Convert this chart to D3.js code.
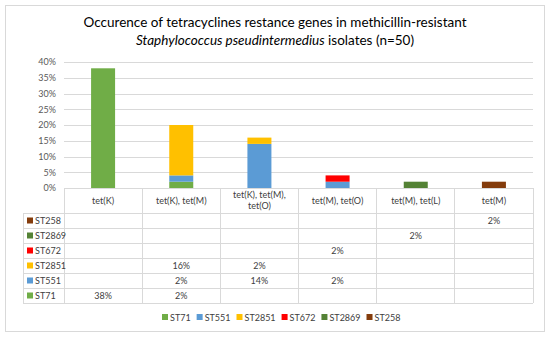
<!DOCTYPE html>
<html>
<head>
<meta charset="utf-8">
<script src="https://cdn.jsdelivr.net/npm/d3@7"></script>
<style>
  body { margin: 0; background: #fff; }
  svg { font-family: Lato, "Open Sans", sans-serif; }
</style>
</head>
<body>
<svg id="chart" width="550" height="337"></svg>
<script>
let categories = ["tet(K)", "tet(K), tet(M)", "tet(K), tet(M), tet(O)", "tet(M), tet(O)", "tet(M), tet(L)", "tet(M)"];
let headerLines = [["tet(K)"], ["tet(K), tet(M)"], ["tet(K), tet(M),", "tet(O)"], ["tet(M), tet(O)"], ["tet(M), tet(L)"], ["tet(M)"]];
let seriesNames = ["ST71", "ST551", "ST2851", "ST672", "ST2869", "ST258"];
let seriesColors = ["#70AD47", "#5B9BD5", "#FFC000", "#FF0000", "#548235", "#843C0C"];
let st71 = [38, 2, 0, 0, 0, 0];
let st551 = [0, 2, 14, 2, 0, 0];
let st2851 = [0, 16, 2, 0, 0, 0];
let st672 = [0, 0, 0, 2, 0, 0];
let st2869 = [0, 0, 0, 0, 2, 0];
let st258 = [0, 0, 0, 0, 0, 2];
let yTicks = [0, 5, 10, 15, 20, 25, 30, 35, 40];

let seriesValues = [st71, st551, st2851, st672, st2869, st258];

let svg = d3.select("#chart");
let width = +svg.attr("width");
let height = +svg.attr("height");

// chart frame
svg.append("rect")
  .attr("x", 5.5).attr("y", 5.5)
  .attr("width", width - 11).attr("height", height - 11)
  .attr("fill", "#fff").attr("stroke", "#d9d9d9");

// title
let title = svg.append("text")
  .attr("x", 275).attr("y", 27)
  .attr("text-anchor", "middle")
  .attr("font-size", 13.5)
  .attr("fill", "#000");
title.append("tspan").attr("x", 275).text("Occurence of tetracyclines restance genes in methicillin-resistant");
let t2 = title.append("tspan").attr("x", 275).attr("dy", 18);
t2.append("tspan").attr("font-style", "italic").text("Staphylococcus pseudintermedius");
t2.append("tspan").text(" isolates (n=50)");

let x = d3.scaleBand().domain(categories).range([64, 533]);
let y = d3.scaleLinear().domain([0, 40]).range([188, 62]);

// gridlines
svg.append("g").selectAll("line").data(yTicks.slice(1)).join("line")
  .attr("x1", 64).attr("x2", 533)
  .attr("y1", d => Math.round(y(d)) + 0.5).attr("y2", d => Math.round(y(d)) + 0.5)
  .attr("stroke", "#d9d9d9");

// y axis labels
let yAxis = d3.axisLeft(y).tickValues(yTicks).tickSize(0).tickPadding(8).tickFormat(d => d + "%");
let yg = svg.append("g").attr("transform", "translate(64,0)").call(yAxis);
yg.select(".domain").remove();
yg.selectAll("text").attr("font-size", 9).attr("fill", "#595959").attr("font-family", "Lato, sans-serif");

// stacked bars
let rows = categories.map((c, i) => {
  let r = { cat: c };
  seriesNames.forEach((s, j) => r[s] = seriesValues[j][i]);
  return r;
});
let stack = d3.stack().keys(seriesNames)(rows);
let barW = 24;
svg.append("g").selectAll("g").data(stack).join("g")
  .attr("fill", (d, i) => seriesColors[i])
  .selectAll("rect").data(d => d.filter(p => p[1] > p[0])).join("rect")
  .attr("x", d => x(d.data.cat) + x.bandwidth() / 2 - barW / 2)
  .attr("width", barW)
  .attr("y", d => y(d[1]))
  .attr("height", d => y(d[0]) - y(d[1]));

// data table
let tableTop = 188, headerH = 25, rowH = 15, tableLeft = 23;
let tableRows = seriesNames.slice().reverse();
let tableBottom = tableTop + headerH + rowH * tableRows.length;
let grid = svg.append("g").attr("stroke", "#d9d9d9").attr("shape-rendering", "crispEdges");
grid.append("line").attr("x1", 64).attr("x2", 533).attr("y1", tableTop).attr("y2", tableTop);
d3.range(tableRows.length + 1).forEach(k => {
  let yy = tableTop + headerH + k * rowH;
  grid.append("line").attr("x1", tableLeft).attr("x2", 533).attr("y1", yy).attr("y2", yy);
});
categories.concat([null]).forEach((c, i) => {
  let xx = c === null ? 533 : x(c);
  grid.append("line").attr("x1", xx).attr("x2", xx).attr("y1", tableTop).attr("y2", tableBottom);
});
grid.append("line").attr("x1", tableLeft).attr("x2", tableLeft).attr("y1", tableTop + headerH).attr("y2", tableBottom);

// header labels
categories.forEach((c, i) => {
  let lines = headerLines[i];
  let cy = tableTop + headerH / 2 - (lines.length - 1) * 5.5;
  let t = svg.append("text")
    .attr("text-anchor", "middle").attr("font-size", 9).attr("fill", "#404040");
  lines.forEach((l, k) => {
    t.append("tspan").attr("x", x(c) + x.bandwidth() / 2).attr("y", cy + k * 11 + 3).text(l);
  });
});

// rows
tableRows.forEach((s, r) => {
  let j = seriesNames.indexOf(s);
  let cy = tableTop + headerH + r * rowH + rowH / 2;
  svg.append("rect").attr("x", 27).attr("y", cy - 3).attr("width", 6).attr("height", 6).attr("fill", seriesColors[j]);
  svg.append("text").attr("x", 35).attr("y", cy + 3.5).attr("font-size", 9).attr("fill", "#404040").text(s);
  seriesValues[j].forEach((v, i) => {
    if (v > 0) {
      svg.append("text").attr("x", x(categories[i]) + x.bandwidth() / 2).attr("y", cy + 3.5)
        .attr("text-anchor", "middle").attr("font-size", 9).attr("fill", "#404040").text(v + "%");
    }
  });
});

// bottom legend
let legend = svg.append("g").attr("transform", "translate(0,317)");
let lx = 162;
seriesNames.forEach((s, j) => {
  let item = legend.append("g").attr("transform", `translate(${lx},0)`);
  item.append("rect").attr("x", 0).attr("y", -3).attr("width", 6).attr("height", 6).attr("fill", seriesColors[j]);
  let t = item.append("text").attr("x", 8).attr("y", 3.5).attr("font-size", 9).attr("fill", "#404040").text(s);
  lx += 8 + t.node().getComputedTextLength() + 6;
});
</script>
</body>
</html>
